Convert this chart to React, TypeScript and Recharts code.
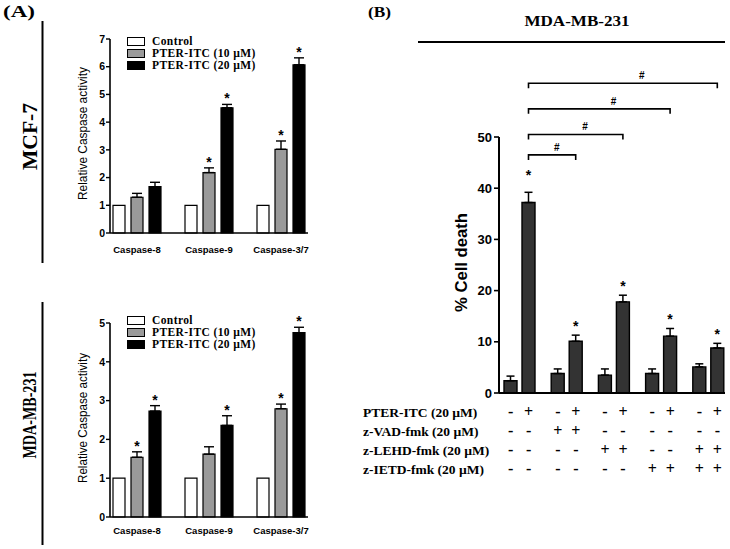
import { BarChart, Bar, XAxis, YAxis, ErrorBar, LabelList, Legend } from "recharts";

const SANS = "'Liberation Sans', Arial, sans-serif";
const SERIF = "'Liberation Serif', 'Times New Roman', serif";

// ---- panel A: caspase activity ----
const caspases = ["Caspase-8", "Caspase-9", "Caspase-3/7"];
const seriesNames = ["Control", "PTER-ITC (10 µM)", "PTER-ITC (20 µM)"];
const seriesFills = ["#ffffff", "#9a9a9a", "#000000"];

const mcfControl = [1, 1, 1];
const mcf10 = [1.29, 2.18, 3.02];
const mcf10Err = [0.14, 0.17, 0.3];
const mcf20 = [1.67, 4.52, 6.07];
const mcf20Err = [0.16, 0.12, 0.25];
const mcf10Sig = [false, true, true];
const mcf20Sig = [false, true, true];

const mdaControl = [1, 1, 1];
const mda10 = [1.54, 1.62, 2.79];
const mda10Err = [0.14, 0.19, 0.12];
const mda20 = [2.73, 2.36, 4.75];
const mda20Err = [0.14, 0.25, 0.14];
const mda10Sig = [true, false, true];
const mda20Sig = [true, true, true];

// ---- panel B: % cell death with inhibitors ----
const groups = ["none", "z-VAD", "z-LEHD", "z-IETD", "z-LEHD+z-IETD"];
const withoutPter = [2.4, 3.8, 3.5, 3.8, 5.1];
const withoutPterErr = [0.9, 0.9, 1.2, 0.9, 0.6];
const withPter = [37.2, 10.1, 17.8, 11.1, 8.8];
const withPterErr = [2.0, 1.2, 1.3, 1.5, 0.9];
const treatmentLabels = [
  "PTER-ITC (20 µM)",
  "z-VAD-fmk (20 µM)",
  "z-LEHD-fmk (20 µM)",
  "z-IETD-fmk (20 µM)",
];
const treatmentSigns = [
  ["-", "+", "-", "+", "-", "+", "-", "+", "-", "+"],
  ["-", "-", "+", "+", "-", "-", "-", "-", "-", "-"],
  ["-", "-", "-", "-", "+", "+", "-", "-", "+", "+"],
  ["-", "-", "-", "-", "-", "-", "+", "+", "+", "+"],
];
// heights (in % units) of the "#" comparison brackets
const hashLevels = [46.5, 50.5, 55.5, 60.5];

const B_BAR = 13;
const B_GAP = 5;

const caspaseRows = (
  ctrl: number[],
  v10: number[],
  e10: number[],
  v20: number[],
  e20: number[]
) =>
  caspases.map((name, i) => ({
    name,
    ctrl: ctrl[i],
    v10: v10[i],
    e10: [0, e10[i]],
    v20: v20[i],
    e20: [0, e20[i]],
  }));

const mcfData = caspaseRows(mcfControl, mcf10, mcf10Err, mcf20, mcf20Err);
const mdaData = caspaseRows(mdaControl, mda10, mda10Err, mda20, mda20Err);
const deathData = groups.map((name, i) => ({
  name,
  minus: withoutPter[i],
  minusErr: [0, withoutPterErr[i]],
  plus: withPter[i],
  plusErr: [0, withPterErr[i]],
}));

const box = (props: any) => {
  const vb = props.viewBox ?? props;
  const h = Math.abs(vb.height);
  const y = Math.min(vb.y, vb.y + vb.height);
  return { x: vb.x, y, width: vb.width, height: h };
};

const starLabel =
  (vals: number[], errs: number[], sig: boolean[], gap: number) => (props: any) => {
    const i = props.index;
    if (!sig[i]) return null;
    const { x, y, width, height } = box(props);
    const unit = height / vals[i];
    const top = y - errs[i] * unit;
    return (
      <text
        x={x + width / 2}
        y={top - gap}
        textAnchor="middle"
        fontFamily={SANS}
        fontWeight="bold"
        fontSize={14}
        fill="#000"
      >
        *
      </text>
    );
  };

const CaspaseLegend = () => (
  <div style={{ fontFamily: SERIF, fontWeight: "bold", fontSize: 11.5, lineHeight: "12px", color: "#000" }}>
    {seriesNames.map((n, i) => (
      <div key={n} style={{ display: "flex", alignItems: "center", height: 12, whiteSpace: "nowrap", letterSpacing: 0.4 }}>
        <span
          style={{
            display: "inline-block",
            width: 18,
            height: 9,
            border: "1.2px solid #000",
            background: seriesFills[i],
            boxSizing: "border-box",
            marginRight: 7,
          }}
        />
        {n}
      </div>
    ))}
  </div>
);

const caspaseTick = (dy: number) => (props: any) => (
  <text
    x={props.x}
    y={props.y + dy}
    textAnchor="middle"
    fontFamily={SANS}
    fontWeight="bold"
    fontSize={9.5}
    fill="#000"
  >
    {props.payload.value}
  </text>
);

function CaspaseChart(props: {
  data: any[];
  max: number;
  top: number;
  height: number;
  marginTop: number;
  marginBottom: number;
  legendTop: number;
  labelDy: number;
  sig10: boolean[];
  sig20: boolean[];
  v10: number[];
  e10: number[];
  v20: number[];
  e20: number[];
}) {
  const ticks = Array.from({ length: props.max + 1 }, (_, i) => i);
  return (
    <div style={{ position: "absolute", left: 60, top: props.top }}>
      <BarChart
        width={260}
        height={props.height}
        data={props.data}
        barSize={12}
        barGap={6}
        margin={{ top: props.marginTop, right: 12, bottom: props.marginBottom, left: 20 }}
      >
        <XAxis
          dataKey="name"
          height={20}
          padding={{ left: -9, right: -9 }}
          axisLine={{ stroke: "#000", strokeWidth: 1.6 }}
          tickLine={false}
          tickSize={0}
          tickMargin={0}
          interval={0}
          tick={caspaseTick(props.labelDy)}
        />
        <YAxis
          width={30}
          domain={[0, props.max]}
          ticks={ticks}
          interval={0}
          tickSize={4}
          tickMargin={1}
          axisLine={{ stroke: "#000", strokeWidth: 1.6 }}
          tickLine={{ stroke: "#000", strokeWidth: 1.4 }}
          tick={{ fill: "#000", fontSize: 10.5, fontWeight: "bold", fontFamily: SANS }}
        />
        <Legend
          layout="vertical"
          align="center"
          verticalAlign="middle"
          wrapperStyle={{ top: props.legendTop, left: 67, width: "auto" }}
          content={() => <CaspaseLegend />}
        />
        <Bar dataKey="ctrl" fill={seriesFills[0]} stroke="#000" strokeWidth={1.2} isAnimationActive={false} />
        <Bar dataKey="v10" fill={seriesFills[1]} stroke="#000" strokeWidth={1.2} isAnimationActive={false}>
          <ErrorBar dataKey="e10" width={5} stroke="#000" strokeWidth={1.4} direction="y" isAnimationActive={false} />
          <LabelList dataKey="v10" content={starLabel(props.v10, props.e10, props.sig10, 1)} />
        </Bar>
        <Bar dataKey="v20" fill={seriesFills[2]} stroke="#000" strokeWidth={1.2} isAnimationActive={false}>
          <ErrorBar dataKey="e20" width={5} stroke="#000" strokeWidth={1.4} direction="y" isAnimationActive={false} />
          <LabelList dataKey="v20" content={starLabel(props.v20, props.e20, props.sig20, 1)} />
        </Bar>
      </BarChart>
    </div>
  );
}

const TreatmentTick = (props: any) => {
  const { x, y } = props;
  const g = props.payload?.index ?? props.index;
  const half = (B_BAR + B_GAP) / 2;
  return (
    <g>
      {treatmentSigns.map((row, r) =>
        [0, 1].map((k) => (
          <text
            key={`${r}-${k}`}
            x={x + (k ? half : -half)}
            y={y + 23.5 + r * 19.2}
            textAnchor="middle"
            fontFamily={SERIF}
            fontWeight="bold"
            fontSize={16}
            fill="#000"
          >
            {row[2 * g + k]}
          </text>
        ))
      )}
    </g>
  );
};

// asterisks + "#" brackets comparing PTER-ITC alone vs each inhibitor
function plusLabel() {
  let firstX = 0;
  return (props: any) => {
    const i = props.index;
    const { x, y, width, height } = box(props);
    const cx = x + width / 2;
    const unit = height / withPter[i];
    const zero = y + height;
    if (i === 0) firstX = cx;
    const star = (
      <text x={cx} y={y - withPterErr[i] * unit - (i === 0 ? 12 : 4)} textAnchor="middle" fontFamily={SANS} fontWeight="bold" fontSize={14} fill="#000">
        *
      </text>
    );
    if (i === 0) return <g>{star}</g>;
    const ly = zero - hashLevels[i - 1] * unit;
    const x0 = firstX;
    return (
      <g>
        {star}
        <path d={`M${x0},${ly + 5}V${ly}H${cx}V${ly + 5}`} fill="none" stroke="#000" strokeWidth={1.6} />
        <text
          x={x0 + (cx - x0) * 0.6}
          y={ly - 4}
          textAnchor="middle"
          fontFamily={SANS}
          fontWeight="bold"
          fontSize={10}
          fill="#000"
        >
          #
        </text>
      </g>
    );
  };
}

function DeathChart() {
  return (
    <div style={{ position: "absolute", left: 440, top: 50 }}>
      <BarChart
        width={290}
        height={440}
        data={deathData}
        barSize={B_BAR}
        barGap={B_GAP}
        margin={{ top: 87, right: 5, bottom: 7, left: 29 }}
      >
        <XAxis
          dataKey="name"
          height={90}
          padding={{ left: -3, right: -7 }}
          axisLine={{ stroke: "#000", strokeWidth: 2 }}
          tickLine={false}
          tickSize={0}
          tickMargin={0}
          interval={0}
          tick={TreatmentTick}
        />
        <YAxis
          width={30}
          domain={[0, 50]}
          ticks={[0, 10, 20, 30, 40, 50]}
          interval={0}
          tickSize={5}
          tickMargin={2}
          axisLine={{ stroke: "#000", strokeWidth: 2 }}
          tickLine={{ stroke: "#000", strokeWidth: 1.6 }}
          tick={{ fill: "#000", fontSize: 13, fontWeight: "bold", fontFamily: SANS }}
        />
        <Bar dataKey="minus" fill="#333333" stroke="#000" strokeWidth={1.4} isAnimationActive={false}>
          <ErrorBar dataKey="minusErr" width={4} stroke="#000" strokeWidth={1.5} direction="y" isAnimationActive={false} />
        </Bar>
        <Bar dataKey="plus" fill="#333333" stroke="#000" strokeWidth={1.4} isAnimationActive={false}>
          <ErrorBar dataKey="plusErr" width={4} stroke="#000" strokeWidth={1.5} direction="y" isAnimationActive={false} />
          <LabelList dataKey="plus" content={plusLabel()} />
        </Bar>
      </BarChart>
    </div>
  );
}

export default function App() {
  return (
    <div style={{ position: "absolute", left: 0, top: 0, width: 730, height: 549, background: "#fff" }}>
      <CaspaseChart
        data={mcfData}
        max={7}
        top={20}
        height={240}
        marginTop={19}
        marginBottom={7}
        legendTop={15}
        labelDy={20}
        v10={mcf10}
        e10={mcf10Err}
        v20={mcf20}
        e20={mcf20Err}
        sig10={mcf10Sig}
        sig20={mcf20Sig}
      />
      <CaspaseChart
        data={mdaData}
        max={5}
        top={300}
        height={245}
        marginTop={23}
        marginBottom={8}
        legendTop={14}
        labelDy={16.5}
        v10={mda10}
        e10={mda10Err}
        v20={mda20}
        e20={mda20Err}
        sig10={mda10Sig}
        sig20={mda20Sig}
      />
      <DeathChart />
      <svg width={730} height={549} style={{ position: "absolute", left: 0, top: 0, pointerEvents: "none" }}>
        <g fontFamily={SERIF} fontWeight="bold" fill="#000">
          <text x={3} y={17} fontSize={17} textLength={32} lengthAdjust="spacingAndGlyphs">(A)</text>
          <text x={368} y={17} fontSize={14} textLength={23} lengthAdjust="spacingAndGlyphs">(B)</text>
          <text
            transform="translate(36.5,136.5) rotate(-90)"
            textAnchor="middle"
            fontSize={20}
            textLength={67}
            lengthAdjust="spacingAndGlyphs"
          >
            MCF-7
          </text>
          <text
            transform="translate(36,415) rotate(-90)"
            textAnchor="middle"
            fontSize={19}
            textLength={87}
            lengthAdjust="spacingAndGlyphs"
          >
            MDA-MB-231
          </text>
          <text x={577} y={26} textAnchor="middle" fontSize={14} textLength={105} lengthAdjust="spacingAndGlyphs">
            MDA-MB-231
          </text>
          {treatmentLabels.map((t, r) => (
            <text key={t} x={363} y={416.5 + r * 19.2} fontSize={13.5}>
              {t}
            </text>
          ))}
        </g>
        <line x1={42.5} y1={21} x2={42.5} y2={263} stroke="#000" strokeWidth={2} />
        <line x1={42.5} y1={302} x2={42.5} y2={545} stroke="#000" strokeWidth={2} />
        <line x1={418} y1={42} x2={725} y2={42} stroke="#000" strokeWidth={2.2} />
        <g fontFamily={SANS} fill="#000">
          <text transform="translate(87,133.5) rotate(-90)" textAnchor="middle" fontSize={12} textLength={133} lengthAdjust="spacingAndGlyphs">
            Relative Caspase activity
          </text>
          <text transform="translate(87,418) rotate(-90)" textAnchor="middle" fontSize={12} textLength={130} lengthAdjust="spacingAndGlyphs">
            Relative Caspase activity
          </text>
          <text
            transform="translate(467,262.5) rotate(-90)"
            textAnchor="middle"
            fontSize={16}
            fontWeight="bold"
            textLength={99}
            lengthAdjust="spacingAndGlyphs"
          >
            % Cell death
          </text>
        </g>
      </svg>
    </div>
  );
}
